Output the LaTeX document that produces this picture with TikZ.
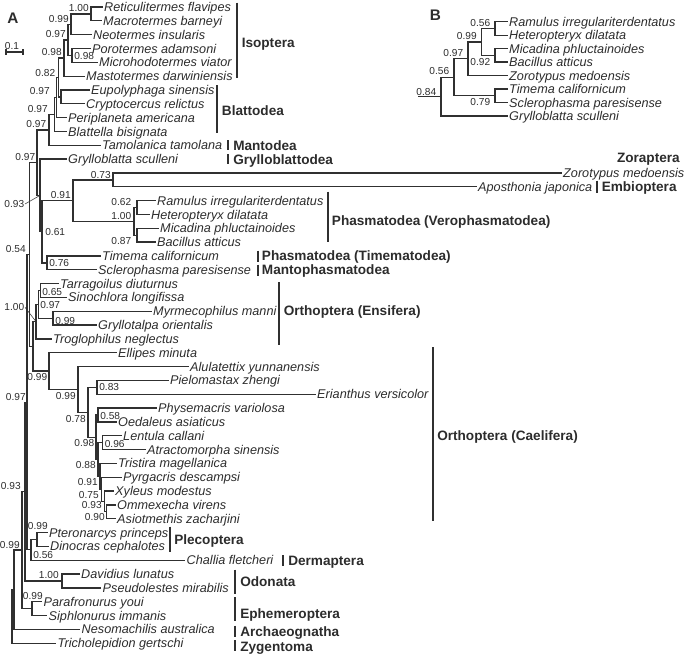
\documentclass[tikz,border=0pt]{standalone}
\usepackage{fontspec}
\setmainfont{Liberation Sans}
\definecolor{lc}{HTML}{303030}
\definecolor{tc}{HTML}{2C2C2C}
\begin{document}
\begin{tikzpicture}[x=0.75pt,y=-0.75pt,
  brl/.style={draw=lc,line width=1pt},
  taxon/.style={anchor=west,inner xsep=1.1pt,inner ysep=0pt,text=tc,font=\fontsize{9.5}{11}\selectfont\itshape,text height=6.8pt,text depth=0pt},
  supp/.style={inner sep=0.4pt,text=tc,font=\fontsize{7.6}{9}\selectfont,text height=5.4pt,text depth=0pt},
  grp/.style={anchor=west,inner sep=0pt,text=tc,font=\fontsize{10.2}{12}\selectfont\bfseries,text height=7.3pt,text depth=0pt},
  gbar/.style={draw=lc,line width=1.5pt},
  ldr/.style={draw=lc,line width=0.4pt},
  panel/.style={inner sep=0pt,text=tc,font=\fontsize{11.5}{13}\selectfont\bfseries}
]
\useasboundingbox (0,0) rectangle (685,657);
% ---------------- panel A: tips
\node[taxon] (t0) at (102.5,7.0) {Reticulitermes flavipes};
\node[taxon] (t1) at (101.5,20.8) {Macrotermes barneyi};
\node[taxon] (t2) at (91.5,34.7) {Neotermes insularis};
\node[taxon] (t3) at (90.5,48.5) {Porotermes adamsoni};
\node[taxon] (t4) at (97.5,62.3) {Microhodotermes viator};
\node[taxon] (t5) at (84.5,76.2) {Mastotermes darwiniensis};
\node[taxon] (t6) at (89.5,90.0) {Eupolyphaga sinensis};
\node[taxon] (t7) at (84.5,103.8) {Cryptocercus relictus};
\node[taxon] (t8) at (66.5,117.6) {Periplaneta americana};
\node[taxon] (t9) at (66.5,131.5) {Blattella bisignata};
\node[taxon] (t10) at (100.5,145.3) {Tamolanica tamolana};
\node[taxon] (t11) at (66.5,159.1) {Grylloblatta sculleni};
\node[taxon] (t12) at (561.5,173.0) {Zorotypus medoensis};
\node[taxon] (t13) at (476.5,186.8) {Aposthonia japonica};
\node[taxon] (t14) at (155.5,200.6) {Ramulus irregulariterdentatus};
\node[taxon] (t15) at (149.5,214.5) {Heteropteryx dilatata};
\node[taxon] (t16) at (158.5,228.3) {Micadina phluctainoides};
\node[taxon] (t17) at (155.5,242.1) {Bacillus atticus};
\node[taxon] (t18) at (100.5,255.9) {Timema californicum};
\node[taxon] (t19) at (96.5,269.8) {Sclerophasma paresisense};
\node[taxon] (t20) at (58.5,283.6) {Tarragoilus diuturnus};
\node[taxon] (t21) at (66.5,297.4) {Sinochlora longifissa};
\node[taxon] (t22) at (151.5,311.3) {Myrmecophilus manni};
\node[taxon] (t23) at (96.5,325.1) {Gryllotalpa orientalis};
\node[taxon] (t24) at (51.5,338.9) {Troglophilus neglectus};
\node[taxon] (t25) at (116.5,352.8) {Ellipes minuta};
\node[taxon] (t26) at (188.5,366.6) {Alulatettix yunnanensis};
\node[taxon] (t27) at (168.5,380.4) {Pielomastax zhengi};
\node[taxon] (t28) at (315.5,394.2) {Erianthus versicolor};
\node[taxon] (t29) at (156.5,408.1) {Physemacris variolosa};
\node[taxon] (t30) at (116.5,421.9) {Oedaleus asiaticus};
\node[taxon] (t31) at (121.5,435.7) {Lentula callani};
\node[taxon] (t32) at (145.5,449.6) {Atractomorpha sinensis};
\node[taxon] (t33) at (116.5,463.4) {Tristira magellanica};
\node[taxon] (t34) at (121.5,477.2) {Pyrgacris descampsi};
\node[taxon] (t35) at (113.5,491.1) {Xyleus modestus};
\node[taxon] (t36) at (115.5,504.9) {Ommexecha virens};
\node[taxon] (t37) at (115.5,518.7) {Asiotmethis zacharjini};
\node[taxon] (t38) at (47.5,532.5) {Pteronarcys princeps};
\node[taxon] (t39) at (48.5,546.4) {Dinocras cephalotes};
\node[taxon] (t40) at (185,560.2) {Challia fletcheri};
\node[taxon] (t41) at (79.5,574.0) {Davidius lunatus};
\node[taxon] (t42) at (101,587.9) {Pseudolestes mirabilis};
\node[taxon] (t43) at (42,601.7) {Parafronurus youi};
\node[taxon] (t44) at (47,615.5) {Siphlonurus immanis};
\node[taxon] (t45) at (80,629.4) {Nesomachilis australica};
\node[taxon] (t46) at (56,643.2) {Tricholepidion gertschi};
% ---------------- panel A: internal nodes
\coordinate (RM) at (91,13.9);
\coordinate (RMN) at (71,24.3);
\coordinate (PM) at (72,55.4);
\coordinate (IA) at (68,39.9);
\coordinate (ISO) at (64,58.0);
\coordinate (EC) at (61,96.9);
\coordinate (DI) at (58.5,77.5);
\coordinate (DP) at (56.5,97.5);
\coordinate (DB) at (54.5,114.5);
\coordinate (DT) at (49,129.9);
\coordinate (D) at (37,162.65);
\coordinate (G) at (40,195.4);
\coordinate (N61) at (42,231.7);
\coordinate (V91) at (73,200.6);
\coordinate (ZA) at (113,179.9);
\coordinate (VP) at (134,221.4);
\coordinate (RH) at (137,207.55);
\coordinate (MB) at (137,235.2);
\coordinate (TS) at (47,262.85);
\coordinate (P) at (29.5,254.5);
\coordinate (O) at (33,346.4);
\coordinate (E) at (36,321.6);
\coordinate (T) at (38.5,304.35);
\coordinate (TSn) at (40.5,290.5);
\coordinate (MG) at (53,318.2);
\coordinate (C1) at (49,371.1);
\coordinate (C2) at (78,389.4);
\coordinate (C3) at (88,412.3);
\coordinate (PE) at (97,387.3);
\coordinate (C4) at (96,437.2);
\coordinate (PO) at (98,415.0);
\coordinate (C5) at (98,459.5);
\coordinate (LA) at (102.5,442.65);
\coordinate (C6) at (100,476.3);
\coordinate (C7) at (101.5,489.3);
\coordinate (C8) at (104.5,501.4);
\coordinate (C9) at (106.5,511.8);
\coordinate (PL) at (37,539.45);
\coordinate (PD) at (31,549.8);
\coordinate (P2) at (27,402.2);
\coordinate (OD) at (62,580.95);
\coordinate (P3) at (25,491.6);
\coordinate (EP) at (32,608.6);
\coordinate (P4) at (22,550.1);
\coordinate (P5) at (14,589.75);
\coordinate (ROOT) at (12,616.5);
% ---------------- panel A: branches
\foreach \p/\c in {RM/t0.west,RM/t1.west,RMN/RM,RMN/t2.west,PM/t3.west,PM/t4.west,
  IA/RMN,IA/PM,ISO/IA,ISO/t5.west,EC/t6.west,EC/t7.west,DI/ISO,DI/EC,DP/DI,DP/t8.west,
  DB/DP,DB/t9.west,DT/DB,DT/t10.west,D/DT,D/G,G/t11.west,G/N61,N61/V91,N61/TS,
  V91/ZA,V91/VP,ZA/t12.west,ZA/t13.west,VP/RH,VP/MB,RH/t14.west,RH/t15.west,
  MB/t16.west,MB/t17.west,TS/t18.west,TS/t19.west,P/D,P/O,O/E,O/C1,E/T,E/t24.west,
  T/TSn,T/MG,TSn/t20.west,TSn/t21.west,MG/t22.west,MG/t23.west,C1/t25.west,C1/C2,
  C2/t26.west,C2/C3,C3/PE,C3/C4,PE/t27.west,PE/t28.west,C4/PO,C4/C5,PO/t29.west,PO/t30.west,
  C5/LA,C5/C6,LA/t31.west,LA/t32.west,C6/t33.west,C6/C7,C7/t34.west,C7/C8,C8/t35.west,C8/C9,
  C9/t36.west,C9/t37.west,PL/t38.west,PL/t39.west,PD/PL,PD/t40.west,P2/P,P2/PD,
  OD/t41.west,OD/t42.west,P3/P2,P3/OD,EP/t43.west,EP/t44.west,P4/P3,P4/EP,
  P5/P4,P5/t45.west,ROOT/P5,ROOT/t46.west}
  \draw[brl] (\p) |- (\c);
% ---------------- panel A: support values
\node[supp,anchor=east] (la1) at (89.5,8.0) {1.00};
\node[supp,anchor=east] (la2) at (69.5,19.0) {0.99};
\node[supp,anchor=east] (la3) at (66.5,34.0) {0.97};
\node[supp,anchor=west] (la4) at (73.5,56.0) {0.98};
\node[supp,anchor=east] (la5) at (62.5,52.0) {0.98};
\node[supp,anchor=east] (la6) at (56,72.5) {0.82};
\node[supp,anchor=east] (la7) at (50.5,90.5) {0.97};
\node[supp,anchor=east] (la8) at (48.5,108.5) {0.97};
\node[supp,anchor=east] (la9) at (47,124) {0.97};
\node[supp,anchor=east] (la10) at (36,156.7) {0.97};
\node[supp,anchor=east] (la11) at (25,204) {0.93};
\node[supp,anchor=east] (la12) at (111.5,175) {0.73};
\node[supp,anchor=east] (la13) at (71.5,195) {0.91};
\node[supp,anchor=east] (la14) at (132,202) {0.62};
\node[supp,anchor=east] (la15) at (132,215.5) {1.00};
\node[supp,anchor=east] (la16) at (132,241) {0.87};
\node[supp,anchor=west] (la17) at (44.5,232) {0.61};
\node[supp,anchor=west] (la18) at (48.5,263) {0.76};
\node[supp,anchor=east] (la19) at (26.5,249) {0.54};
\node[supp,anchor=east] (la20) at (25,307.3) {1.00};
\node[supp,anchor=west] (la21) at (41.5,292) {0.65};
\node[supp,anchor=west] (la22) at (39.5,304.5) {0.97};
\node[supp,anchor=west] (la23) at (54.5,321) {0.99};
\node[supp,anchor=east] (la24) at (48,377) {0.99};
\node[supp,anchor=east] (la25) at (76.5,396) {0.99};
\node[supp,anchor=west] (la26) at (98.5,387.3) {0.83};
\node[supp,anchor=east] (la27) at (86.5,419) {0.78};
\node[supp,anchor=west] (la28) at (99.5,415.5) {0.58};
\node[supp,anchor=east] (la29) at (95,443) {0.98};
\node[supp,anchor=west] (la30) at (104,444) {0.96};
\node[supp,anchor=east] (la31) at (96.5,465) {0.88};
\node[supp,anchor=east] (la32) at (98.5,482.3) {0.91};
\node[supp,anchor=east] (la33) at (99.5,495.2) {0.75};
\node[supp,anchor=east] (la34) at (102.5,505) {0.93};
\node[supp,anchor=east] (la35) at (105.5,517.3) {0.90};
\node[supp,anchor=east] (la36) at (26.5,396.5) {0.97};
\node[supp,anchor=east] (la37) at (21.5,486) {0.93};
\node[supp,anchor=east] (la38) at (20.5,544.5) {0.99};
\node[supp,anchor=east] (la39) at (48.5,526) {0.99};
\node[supp,anchor=west] (la40) at (32.5,555) {0.56};
\node[supp,anchor=east] (la41) at (59.5,574.5) {1.00};
\node[supp,anchor=east] (la42) at (43.5,596) {0.99};
\draw[ldr] (la11.east) -- (G);
\draw[ldr] (la20.east) -- (E);
% ---------------- panel A: groups
\draw[gbar] (237,2.7) -- (237,78.3);
\node[grp] (gIso) at (241.5,42.5) {Isoptera};
\draw[gbar] (217.3,85) -- (217.3,133.3);
\node[grp] (gBla) at (221.7,111) {Blattodea};
\draw[gbar] (228.3,140) -- (228.3,150);
\node[grp] (gMan) at (233,145.5) {Mantodea};
\draw[gbar] (228.3,154) -- (228.3,164);
\node[grp] (gGry) at (233,159.3) {Grylloblattodea};
\node[grp,anchor=east] (gZor) at (680,158) {Zoraptera};
\draw[gbar] (596.5,180.5) -- (596.5,193);
\node[grp] (gEmb) at (601.5,186.8) {Embioptera};
\draw[gbar] (327.7,191.7) -- (327.7,241.7);
\node[grp] (gVer) at (331.7,221) {Phasmatodea (Verophasmatodea)};
\draw[gbar] (257.7,250.5) -- (257.7,261.5);
\node[grp] (gTim) at (261.7,255.9) {Phasmatodea (Timematodea)};
\draw[gbar] (257.7,264.5) -- (257.7,275.5);
\node[grp] (gMph) at (261.7,269.8) {Mantophasmatodea};
\draw[gbar] (279,282) -- (279,345);
\node[grp] (gEns) at (283.5,311) {Orthoptera (Ensifera)};
\draw[gbar] (433,347) -- (433,521);
\node[grp] (gCae) at (437,436) {Orthoptera (Caelifera)};
\draw[gbar] (170,526.7) -- (170,551.7);
\node[grp] (gPle) at (174,539.5) {Plecoptera};
\draw[gbar] (283,555) -- (283,566);
\node[grp] (gDer) at (288,561) {Dermaptera};
\draw[gbar] (235,569.5) -- (235,593.5);
\node[grp] (gOdo) at (240,581.5) {Odonata};
\draw[gbar] (235,597) -- (235,620.5);
\node[grp] (gEph) at (240,613.3) {Ephemeroptera};
\draw[gbar] (235,625.5) -- (235,636.7);
\node[grp] (gArc) at (240,631.5) {Archaeognatha};
\draw[gbar] (235,640) -- (235,651);
\node[grp] (gZyg) at (240,646.5) {Zygentoma};
% ---------------- panel letters, scale bar
\node[panel] (pA) at (13,18.5) {A};
\node[panel] (pB) at (435.5,15) {B};
\node[supp] (sbl) at (12,46) {0.1};
\coordinate (sb1) at (6,52);
\coordinate (sb2) at (23,52);
\coordinate (sb1a) at (6,49);
\coordinate (sb1b) at (6,55);
\coordinate (sb2a) at (23,49);
\coordinate (sb2b) at (23,55);
\draw[brl,line width=0.8pt] (sb1) -- (sb2);
\draw[brl,line width=0.8pt] (sb1a) -- (sb1b);
\draw[brl,line width=0.8pt] (sb2a) -- (sb2b);
% ---------------- panel B
\node[taxon] (b0) at (507.5,21.7) {Ramulus irregulariterdentatus};
\node[taxon] (b1) at (507.5,35.2) {Heteropteryx dilatata};
\node[taxon] (b2) at (507.5,48.6) {Micadina phluctainoides};
\node[taxon] (b3) at (507.5,62.1) {Bacillus atticus};
\node[taxon] (b4) at (507.5,75.6) {Zorotypus medoensis};
\node[taxon] (b5) at (507.5,89.1) {Timema californicum};
\node[taxon] (b6) at (507.5,102.5) {Sclerophasma paresisense};
\node[taxon] (b7) at (507.5,116.0) {Grylloblatta sculleni};
\coordinate (bRH) at (495,28.45);
\coordinate (bMB) at (495,55.35);
\coordinate (bRHMB) at (481.5,41.9);
\coordinate (bZ) at (468,58.75);
\coordinate (bTS) at (495,95.8);
\coordinate (bTSZ) at (454,77.3);
\coordinate (bRoot) at (441,96.65);
\coordinate (bStub) at (418,96.65);
\foreach \p/\c in {bRH/b0.west,bRH/b1.west,bMB/b2.west,bMB/b3.west,bRHMB/bRH,bRHMB/bMB,
  bZ/bRHMB,bZ/b4.west,bTS/b5.west,bTS/b6.west,bTSZ/bZ,bTSZ/bTS,bRoot/bTSZ,bRoot/b7.west}
  \draw[brl] (\p) |- (\c);
\draw[brl] (bStub) -- (bRoot);
\node[supp,anchor=east] (lb1) at (491,22.5) {0.56};
\node[supp,anchor=east] (lb2) at (491,61.5) {0.92};
\node[supp,anchor=east] (lb3) at (477.5,36) {0.99};
\node[supp,anchor=east] (lb4) at (464,52.7) {0.97};
\node[supp,anchor=east] (lb5) at (491,102) {0.79};
\node[supp,anchor=east] (lb6) at (450,71) {0.56};
\node[supp,anchor=east] (lb7) at (437,92) {0.84};
\end{tikzpicture}
\end{document}
